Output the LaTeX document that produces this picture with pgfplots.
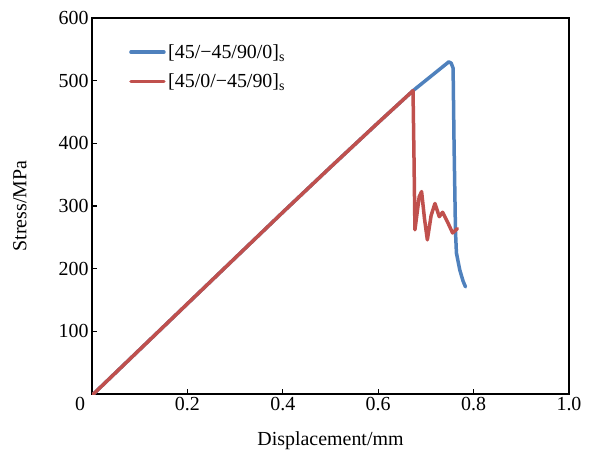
\documentclass[border=0pt]{standalone}
\usepackage{fontspec}
\setmainfont{Liberation Serif}
\usepackage{pgfplots}
\pgfplotsset{compat=1.18}
\definecolor{cblue}{HTML}{4F81BD}
\definecolor{cred}{HTML}{C0504D}
\newcommand\ff{\fontsize{20}{24}\selectfont}
\begin{document}
\begin{tikzpicture}
\begin{axis}[
  scale only axis, width=477bp, height=376bp,
  xmin=0, xmax=1, ymin=0, ymax=600,
  xtick={0,0.2,0.4,0.6,0.8,1.0},
  xticklabels={{\makebox[0pt][r]{0\hspace{7bp}}},0.2,0.4,0.6,0.8,1.0},
  ytick={100,200,300,400,500,600},
  tick align=inside, tick pos=left,
  major tick length=5bp,
  axis line style={line width=1.1bp},
  tick style={line width=1.1bp, black},
  /pgf/number format/assume math mode=true,
  ticklabel style={font=\ff},
  xlabel={Displacement/mm}, ylabel={Stress/MPa},
  xlabel style={font=\ff, at={(axis description cs:0.5,0)}, anchor=center, yshift=-47bp},
  ylabel style={font=\ff, at={(axis description cs:-0.151,0.5)}, anchor=center},
  legend style={draw=none, fill=none, at={(axis description cs:0.0776,0.937)}, anchor=north west,
    inner sep=0pt, font=\ff, row sep=9bp, nodes={inner sep=2.5bp}},
  legend cell align=left,
  legend image code/.code={\draw[#1] (0bp,0bp) -- (33bp,0bp);},
]
\coordinate (sw) at (rel axis cs:0,0);
\coordinate (ne) at (rel axis cs:1,1);
\addplot[cblue, line width=3.5bp, line join=round, line cap=round] coordinates {
(0.003,0) (0.2,144) (0.4,290) (0.5,362) (0.6,433) (0.673,484) (0.748,530) (0.753,528) (0.757,520)
(0.759,400) (0.762,260) (0.764,225) (0.771,198) (0.778,180) (0.783,171)
};
\addlegendentry{[45/−45/90/0]\textsubscript{s}}
\addplot[cred, line width=3.5bp, line join=round, line cap=round] coordinates {
(0.003,0) (0.2,144) (0.4,290) (0.5,362) (0.6,433) (0.673,484) (0.675,380) (0.677,262)
(0.686,315) (0.691,323) (0.697,280) (0.703,246) (0.711,285) (0.719,304) (0.728,283)
(0.735,290) (0.745,275) (0.756,257) (0.766,264)
};
\addlegendentry{[45/0/−45/90]\textsubscript{s}}
\end{axis}
\pgfresetboundingbox
\path ([xshift=-92bp,yshift=-64bp]sw) rectangle ([xshift=27bp,yshift=18bp]ne);
\end{tikzpicture}
\end{document}
